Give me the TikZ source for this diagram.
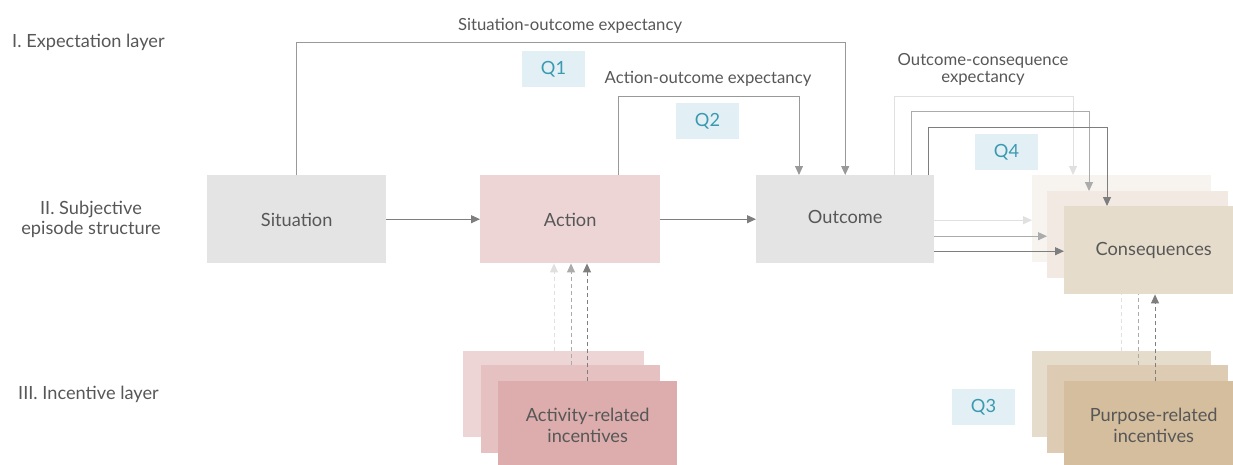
\documentclass[tikz,border=0pt]{standalone}
\usepackage{fontspec}
\setmainfont{Lato}
\usetikzlibrary{arrows.meta}
\definecolor{txt}{HTML}{575757}
\definecolor{qtxt}{HTML}{3A9AB0}
\definecolor{qfill}{HTML}{E2EFF4}
\definecolor{grayfill}{HTML}{E4E4E4}
\definecolor{actfill}{HTML}{EDD5D6}
\definecolor{incA}{HTML}{EDD5D6}
\definecolor{incB}{HTML}{E5C1C1}
\definecolor{incC}{HTML}{DCADAC}
\definecolor{conA}{HTML}{F7F3EE}
\definecolor{conB}{HTML}{F2EAE2}
\definecolor{conC}{HTML}{E6DCCB}
\definecolor{purA}{HTML}{E6DCCB}
\definecolor{purB}{HTML}{DDCBB3}
\definecolor{purC}{HTML}{D4BE9E}
\definecolor{lnLight}{HTML}{E0E0E0}
\definecolor{lnMid}{HTML}{ABABAB}
\definecolor{lnDark}{HTML}{7E7E7E}
\definecolor{lnTop}{HTML}{999999}
\tikzset{
  bigfont/.style={font=\fontsize{18.2}{21}\selectfont, text=txt},
  smallfont/.style={font=\fontsize{16.7}{17}\selectfont, text=txt},
  box/.style={rectangle, inner sep=0pt, anchor=north west, align=center,
    minimum width=179pt, minimum height=88pt, bigfont},
  qbox/.style={rectangle, inner sep=0pt, fill=qfill, minimum width=63pt,
    minimum height=36pt, text=qtxt, font=\fontsize{18.2}{21}\selectfont},
  lbl/.style={inner sep=0pt, align=center, bigfont},
  elbl/.style={inner sep=0pt, align=center, smallfont},
  tip/.style={-{Triangle[length=9pt,width=8pt]}},
  conn/.style={tip, draw=#1, line width=1pt},
  dconn/.style={tip, draw=#1, line width=1pt, dash pattern=on 4pt off 3pt},
}
\begin{document}
\begin{tikzpicture}[x=1pt,y=-1pt]
\useasboundingbox (0,0) rectangle (1233,464);

% layer labels
\node[lbl, anchor=west] (l1) at (12,42) {I. Expectation layer};
\node[lbl, font=\fontsize{18.2}{20}\selectfont] (l2) at (91,219) {II. Subjective\\episode structure};
\node[lbl, anchor=west] (l3) at (18,394) {III. Incentive layer};

% episode structure
\node[box, fill=grayfill] (sit) at (207,175) {};
\node[lbl] (sitlbl) at ([yshift=-1pt]sit.center) {Situation};
\node[box, fill=actfill, minimum width=180pt] (act) at (480,175) {};
\node[lbl] (actlbl) at ([yshift=-1pt]act.center) {Action};
\node[box, fill=grayfill, minimum width=178pt] (out) at (756,175) {};
\node[lbl] (outlbl) at ([yshift=2pt]out.center) {Outcome};

\draw[conn=lnDark] (sit.east) -- (act.west);
\draw[conn=lnDark] (act.east) -- (out.west);

% expectancy links
\node[elbl] (e1) at (570,26) {Situation-outcome expectancy};
\node[elbl] (e2) at (708,79) {Action-outcome expectancy};
\node[elbl] (e3) at (983,69) {Outcome-consequence\\expectancy};
\draw[conn=lnTop] (sit.north) -- ++(0,-133) -| (out.north);
\draw[conn=lnTop] ([xshift=48pt]act.north) -- ++(0,-79) -| ([xshift=43pt]out.north west);

\node[qbox] (q1) at (553.5,69) {Q1};
\node[qbox] (q2) at (707.5,121) {Q2};
\node[qbox] (q4) at (1006.5,152) {Q4};
\node[qbox] (q3) at (983.5,407) {Q3};

% back layer
\node[box, fill=conA, minimum height=87pt] (cA) at (1032,175) {};
\node[box, fill=purA, minimum height=86pt] (pA) at (1032,351) {};
\node[box, fill=incA, minimum width=181pt, minimum height=86pt] (iA) at (463,351) {};
\draw[conn=lnLight] ([xshift=-40pt]out.north east) -- ++(0,-79) -| ([xshift=41pt]cA.north west);
\coordinate (h1) at ([yshift=-1pt]out.east);
\draw[conn=lnLight] (h1) -- (h1 -| cA.west);
\draw[dconn=lnLight] ([xshift=89pt]pA.north west) -- ([xshift=89pt]cA.south west);
\draw[dconn=lnLight] ([xshift=91pt]iA.north west) -- ([xshift=74pt]act.south west);

% middle layer
\node[box, fill=conB, minimum width=181pt, minimum height=87pt] (cB) at (1047,191) {};
\node[box, fill=purB, minimum width=181pt] (pB) at (1047,365) {};
\node[box, fill=incB] (iB) at (481,365) {};
\draw[conn=lnMid] ([xshift=-23pt]out.north east) -- ++(0,-64) -| ([xshift=42pt]cB.north west);
\coordinate (h2) at ([yshift=-17pt]out.east);
\draw[conn=lnMid] (h2) -- (h2 -| cB.west);
\draw[dconn=lnMid] ([xshift=91pt]pB.north west) -- ([xshift=91pt]cB.south west);
\draw[dconn=lnMid] ([xshift=90pt]iB.north west) -- ([xshift=91pt]act.south west);

% front layer
\node[box, fill=conC] (cC) at (1064,206) {Consequences};
\node[box, fill=purC] (pC) at (1064,381) {Purpose-related\\incentives};
\node[box, fill=incC] (iC) at (498,381) {Activity-related\\incentives};
\draw[conn=lnDark] ([xshift=-6pt]out.north east) -- ++(0,-48) -| ([xshift=43pt]cC.north west);
\coordinate (h3) at ([yshift=-32pt]out.east);
\draw[conn=lnDark] (h3) -- (h3 -| cC.west);
\draw[dconn=lnDark] ([xshift=91pt]pC.north west) -- ([xshift=91pt]cC.south west);
\draw[dconn=lnDark] ([xshift=89pt]iC.north west) -- ([xshift=107pt]act.south west);
\end{tikzpicture}
\end{document}
